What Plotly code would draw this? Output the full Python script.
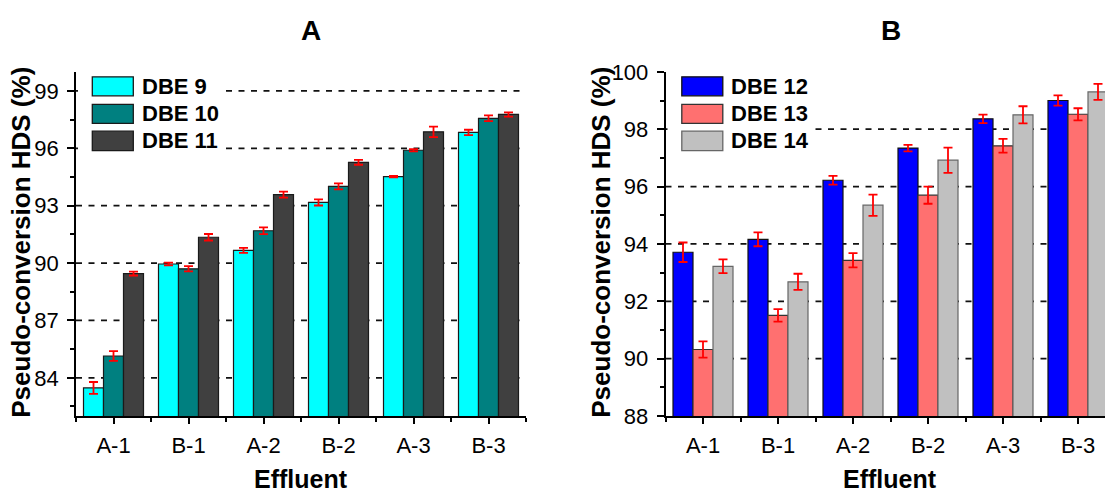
import plotly.graph_objects as go

W, H = 1105, 496

effluents = ["A-1", "B-1", "A-2", "B-2", "A-3", "B-3"]

# Panel A
dbe9 = [83.47, 89.95, 90.66, 93.17, 94.52, 96.83]
dbe9_err = [0.31, 0.07, 0.13, 0.16, 0.04, 0.14]
dbe10 = [85.14, 89.70, 91.69, 94.01, 95.90, 97.57]
dbe10_err = [0.25, 0.14, 0.18, 0.16, 0.06, 0.15]
dbe11 = [89.45, 91.35, 93.58, 95.27, 96.86, 97.77]
dbe11_err = [0.10, 0.17, 0.16, 0.13, 0.27, 0.11]

# Panel B
dbe12 = [93.71, 94.16, 96.22, 97.34, 98.36, 99.00]
dbe12_err = [0.34, 0.24, 0.15, 0.11, 0.15, 0.18]
dbe13 = [90.32, 91.51, 93.43, 95.70, 97.42, 98.52]
dbe13_err = [0.28, 0.22, 0.25, 0.30, 0.24, 0.21]
dbe14 = [93.22, 92.68, 95.35, 96.92, 98.50, 99.30]
dbe14_err = [0.24, 0.28, 0.37, 0.44, 0.30, 0.28]

names_a = ["DBE 9", "DBE 10", "DBE 11"]
names_b = ["DBE 12", "DBE 13", "DBE 14"]
colors_a = ["#00FFFF", "#008080", "#404040"]
colors_b = ["#0000FF", "#FF7070", "#C0C0C0"]
edge_a = ["#1a1a1a", "#1a1a1a", "#1a1a1a"]
edge_b = ["#111111", "#333333", "#666666"]

grid_a = [84, 87, 90, 93, 96, 99]
grid_b = [90, 92, 94, 96, 98]

FONT = "Arial, Liberation Sans, sans-serif"
xpos = list(range(len(effluents)))


def px(x):
    return x / W


def py(y):
    return 1 - y / H


fig = go.Figure()

for vals, errs, name, col, ec in zip([dbe9, dbe10, dbe11], [dbe9_err, dbe10_err, dbe11_err],
                                     names_a, colors_a, edge_a):
    fig.add_trace(go.Bar(x=xpos, y=vals, name=name, xaxis="x", yaxis="y",
                         marker=dict(color=col, line=dict(color=ec, width=1.2)),
                         error_y=dict(type="data", array=errs, color="red", thickness=1.8, width=4.5),
                         showlegend=False))

for vals, errs, name, col, ec in zip([dbe12, dbe13, dbe14], [dbe12_err, dbe13_err, dbe14_err],
                                     names_b, colors_b, edge_b):
    fig.add_trace(go.Bar(x=xpos, y=vals, name=name, xaxis="x2", yaxis="y2",
                         marker=dict(color=col, line=dict(color=ec, width=1.2)),
                         error_y=dict(type="data", array=errs, color="red", thickness=1.8, width=4.5),
                         showlegend=False))

ydom = [py(425.5), py(63)]
left_ax = 76
right_ax = 665.5
unit = 75.0

common_x = dict(tickmode="array", tickvals=xpos, ticktext=effluents,
                showline=True, linecolor="black", linewidth=1.5,
                ticks="outside", ticklen=6, tickwidth=1.5, tickcolor="black",
                ticklabelstandoff=3,
                minor=dict(ticks="outside", ticklen=4, tickwidth=1.5, tickcolor="black",
                           tick0=0.5, dtick=1, showgrid=False),
                showgrid=False, zeroline=False,
                tickfont=dict(family=FONT, size=22, color="black"))

common_y = dict(showline=True, linecolor="black", linewidth=1.5,
                ticks="outside", ticklen=7, tickwidth=1.5, tickcolor="black",
                ticklabelstandoff=4,
                showgrid=False, zeroline=False,
                tickfont=dict(family=FONT, size=22, color="black"))

right_end = 1105
xr2_max = -0.5 + (right_end - right_ax) / unit

fig.update_layout(
    width=W, height=H, autosize=False,
    margin=dict(l=0, r=0, t=0, b=0),
    paper_bgcolor="white", plot_bgcolor="rgba(0,0,0,0)",
    barmode="group", bargap=0.2, bargroupgap=0,
    xaxis=dict(domain=[px(left_ax), px(left_ax + 6 * unit)], range=[-0.5, 5.5], anchor="y", **common_x),
    yaxis=dict(domain=ydom, range=[82, 100], anchor="x", tick0=84, dtick=3,
               minor=dict(ticks="outside", ticklen=4, tickwidth=1.5, tickcolor="black",
                          tick0=82.5, dtick=1.5, showgrid=False),
               **common_y),
    xaxis2=dict(domain=[px(right_ax), 1.0], range=[-0.5, xr2_max], anchor="y2", **common_x),
    yaxis2=dict(domain=ydom, range=[88, 100], anchor="x2", tick0=88, dtick=2,
                minor=dict(ticks="outside", ticklen=4, tickwidth=1.5, tickcolor="black",
                           tick0=89, dtick=1, showgrid=False),
                **common_y),
)

shapes = []
# dashed grid lines drawn through the axis scales
for g in grid_a:
    shapes.append(dict(type="line", xref="x domain", yref="y", x0=0, x1=1, y0=g, y1=g,
                       line=dict(color="#111111", width=1.8, dash="6px,6.5px"), layer="below"))
for g in grid_b:
    shapes.append(dict(type="line", xref="x2 domain", yref="y2", x0=0, x1=1, y0=g, y1=g,
                       line=dict(color="#111111", width=1.8, dash="6px,6.5px"), layer="below"))

# legend background (hides grid under the legend)
shapes.append(dict(type="rect", xref="paper", yref="paper",
                   x0=px(left_ax + 2), x1=px(223), y0=py(152), y1=py(62),
                   fillcolor="white", line=dict(width=0), layer="between"))
shapes.append(dict(type="rect", xref="paper", yref="paper",
                   x0=px(right_ax + 2), x1=px(812), y0=py(152), y1=py(62),
                   fillcolor="white", line=dict(width=0), layer="between"))

annotations = []
rows = [(68.3, 88.3), (97.3, 117.3), (125.5, 146)]
for ax0, names, cols, ecs in [(left_ax, names_a, colors_a, edge_a), (right_ax, names_b, colors_b, edge_b)]:
    for (t, b), nm, c, ec in zip(rows, names, cols, ecs):
        shapes.append(dict(type="rect", xref="paper", yref="paper",
                           x0=px(ax0 + 16.3), x1=px(ax0 + 57.3), y0=py(b), y1=py(t),
                           fillcolor=c, line=dict(color=ec, width=1.3), layer="above"))
        annotations.append(dict(text="<b>%s</b>" % nm, xref="paper", yref="paper",
                                x=px(ax0 + 63.5), y=py((t + b) / 2), xanchor="left", yanchor="middle",
                                showarrow=False, font=dict(family=FONT, size=22, color="black")))

# panel titles
annotations.append(dict(text="<b>A</b>", xref="paper", yref="paper", x=px(311), y=py(19),
                        xanchor="center", yanchor="middle", showarrow=False,
                        font=dict(family=FONT, size=28, color="black")))
annotations.append(dict(text="<b>B</b>", xref="paper", yref="paper", x=px(891), y=py(19),
                        xanchor="center", yanchor="middle", showarrow=False,
                        font=dict(family=FONT, size=28, color="black")))
# axis titles
for xc in [301, 890]:
    annotations.append(dict(text="<b>Effluent</b>", xref="paper", yref="paper", x=px(xc), y=py(492),
                            xanchor="center", yanchor="middle", showarrow=False,
                            font=dict(family=FONT, size=25, color="black")))
for xc in [21, 601]:
    annotations.append(dict(text="<b>Pseudo-conversion HDS (%)</b>", xref="paper", yref="paper",
                            x=px(xc), y=py(243), xanchor="center", yanchor="middle",
                            showarrow=False, textangle=-90,
                            font=dict(family=FONT, size=26, color="black")))

fig.update_layout(shapes=shapes, annotations=annotations)

fig.write_html("out.html")
